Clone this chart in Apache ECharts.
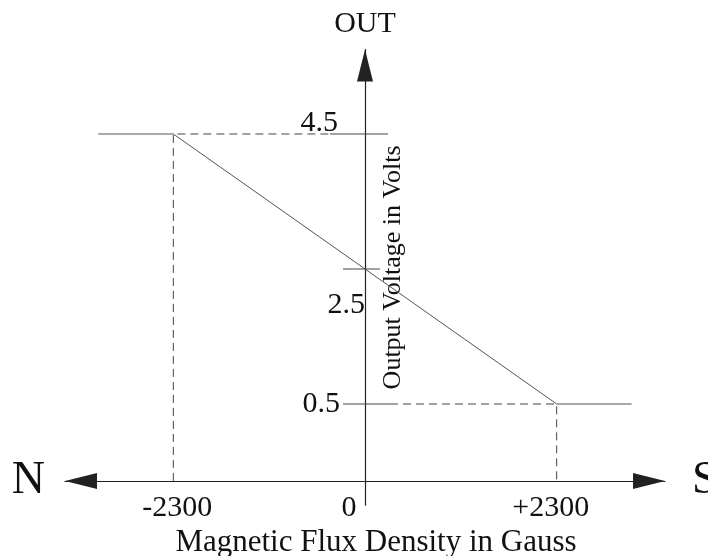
<!DOCTYPE html>
<html>
<head>
<meta charset="utf-8">
<script src="https://cdn.jsdelivr.net/npm/echarts@6/dist/echarts.min.js"></script>
<style>
  html, body {margin: 0; padding: 0; background: #fff}
  #chart {width: 708px; height: 556px}
</style>
</head>
<body>
<div id="chart"></div>
<script>
// axis ranges (gauss / volts)
const xRange = [-3600, 3600]
const yRange = [-1, 5.75]
// the flux axis is drawn at this voltage level (sketch is not to scale below 0.5 V)
const fluxAxisLevel = -0.64

const xTickValues = [-2300, 0, 2300]
const xTickLabels = ['-2300', '0', '+2300']
const yTickValues = [4.5, 2.5, 0.5]
const yTickLabels = ['4.5', '2.5', '0.5']

// output transfer curve
const transferCurve = [[-3200, 4.5], [-2300, 4.5], [2300, 0.5], [3200, 0.5]]
// dashed guide lines
const guideHigh = [[-2300, fluxAxisLevel], [-2300, 4.5], [-420, 4.5]]
const guideLow = [[300, 0.5], [2300, 0.5], [2300, fluxAxisLevel]]
// short marks across the OUT axis
const markHigh = [[-420, 4.5], [276, 4.5]]
const markMid = [[-264, 2.5], [180, 2.5]]
const markLow = [[-264, 0.5], [300, 0.5]]

const font = "'Liberation Serif', 'Times New Roman', serif"
const ink = '#111'
const lineColor = '#444'
const axisColor = '#222'

const xLabelRich = {
  a: {fontFamily: font, fontSize: 30, color: ink, padding: [0, 0, 0, 8]},
  b: {fontFamily: font, fontSize: 30, color: ink, padding: [0, 32, 0, 0]},
  c: {fontFamily: font, fontSize: 30, color: ink, padding: [0, 12, 0, 0]}
}
const yLabelRich = {
  a: {fontFamily: font, fontSize: 30, color: ink, padding: [0, 27, 22, 0]},
  b: {fontFamily: font, fontSize: 30, color: ink, padding: [72, 0, 0, 0]},
  c: {fontFamily: font, fontSize: 30, color: ink, padding: [0, 25, 0, 0]}
}
const richKeys = ['a', 'b', 'c']

// the OUT axis sits at gauss 0, i.e. 300px right of the grid's left edge
const yAxisShift = -300
const xAxisShift = -24.25

function hiddenX(extra) {
  return Object.assign({
    type: 'value',
    position: 'bottom',
    min: xRange[0],
    max: xRange[1],
    offset: xAxisShift,
    axisLine: {show: false, onZero: false},
    axisTick: {show: false},
    axisLabel: {show: false},
    splitLine: {show: false}
  }, extra)
}

function line(data, dashed, color) {
  return {
    type: 'line',
    data: data,
    symbol: 'none',
    silent: true,
    lineStyle: {color: color || lineColor, width: 1, type: dashed ? [8, 5] : 'solid'}
  }
}

const chart = echarts.init(document.getElementById('chart'))
chart.setOption({
  animation: false,
  backgroundColor: '#fff',
  grid: {left: 65, right: 43, top: 49.62, bottom: 50.75, containLabel: false, outerBoundsMode: 'none'},
  xAxis: [
    {
      type: 'value',
      position: 'bottom',
      min: xRange[0],
      max: xRange[1],
      offset: xAxisShift,
      name: 'S',
      nameLocation: 'end',
      nameGap: 27,
      nameTextStyle: {fontFamily: font, fontSize: 46, color: ink, verticalAlign: 'middle'},
      axisLine: {
        onZero: false,
        symbol: ['triangle', 'triangle'],
        symbolSize: [16, 32],
        symbolOffset: [16, -16],
        lineStyle: {color: axisColor, width: 1.2}
      },
      axisTick: {show: false},
      splitLine: {show: false},
      axisLabel: {
        customValues: xTickValues,
        margin: 12,
        formatter: (v) => {
          const i = xTickValues.indexOf(v)
          return '{' + richKeys[i] + '|' + xTickLabels[i] + '}'
        },
        rich: xLabelRich
      }
    },
    hiddenX({
      name: 'N',
      nameLocation: 'start',
      nameGap: 20,
      nameTextStyle: {fontFamily: font, fontSize: 46, color: ink, verticalAlign: 'middle', padding: [0, 0, 8, 0]}
    }),
    hiddenX({
      name: 'Magnetic Flux Density in Gauss',
      nameLocation: 'middle',
      nameGap: 46,
      nameTextStyle: {fontFamily: font, fontSize: 31, color: ink, padding: [0, 0, 0, 22]}
    })
  ],
  yAxis: [
    {
      type: 'value',
      position: 'left',
      min: yRange[0],
      max: yRange[1],
      offset: yAxisShift,
      name: 'OUT',
      nameLocation: 'end',
      nameGap: 10,
      nameTextStyle: {fontFamily: font, fontSize: 30, color: ink},
      axisLine: {
        onZero: false,
        symbol: ['none', 'triangle'],
        symbolSize: [16, 32],
        symbolOffset: [0, -16],
        lineStyle: {color: axisColor, width: 1.2}
      },
      axisTick: {show: false},
      splitLine: {show: false},
      axisLabel: {
        customValues: yTickValues,
        margin: 0,
        formatter: (v) => {
          const i = yTickValues.indexOf(v)
          return '{' + richKeys[i] + '|' + yTickLabels[i] + '}'
        },
        rich: yLabelRich
      }
    },
    {
      type: 'value',
      position: 'left',
      min: yRange[0],
      max: yRange[1],
      offset: yAxisShift,
      name: 'Output Voltage in Volts',
      nameLocation: 'middle',
      nameRotate: 90,
      nameGap: -28,
      nameTextStyle: {fontFamily: font, fontSize: 26, color: ink, verticalAlign: 'middle', padding: [0, 0, 0, 20]},
      axisLine: {show: false, onZero: false},
      axisTick: {show: false},
      axisLabel: {show: false},
      splitLine: {show: false}
    }
  ],
  series: [
    line(guideHigh, true),
    line(guideLow, true),
    line(transferCurve, false, '#555'),
    line(markHigh, false),
    line(markMid, false),
    line(markLow, false)
  ]
})
</script>
</body>
</html>
